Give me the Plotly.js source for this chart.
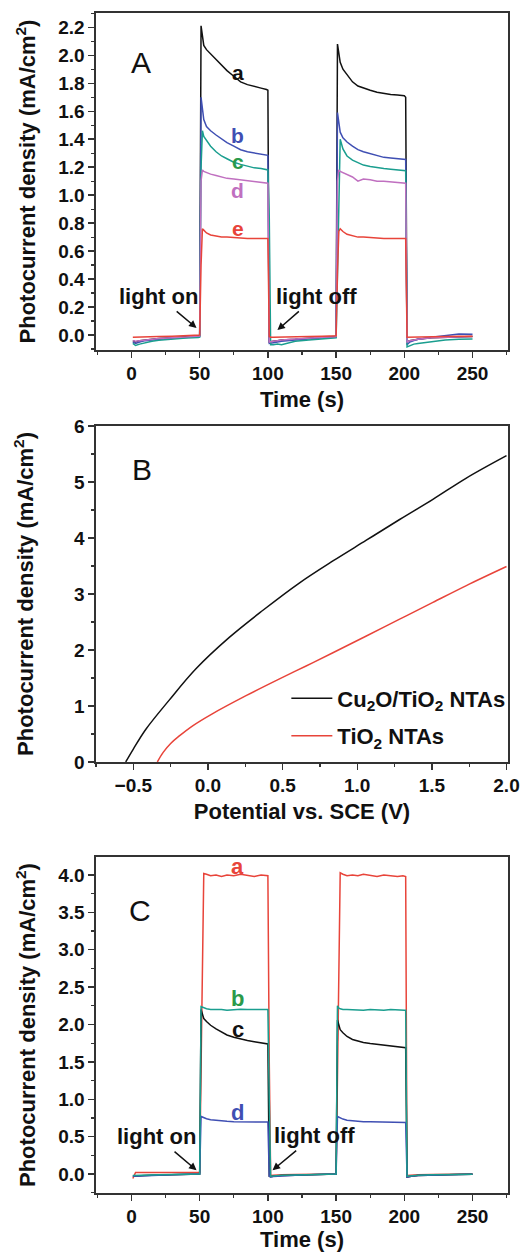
<!DOCTYPE html>
<html><head><meta charset="utf-8">
<script src="https://cdn.plot.ly/plotly-3.0.1.min.js"></script>
<style>html,body{margin:0;padding:0;background:#fff}</style>
</head><body><div id="chart" style="width:524px;height:1252px"></div>
<script>
// ---------- data ----------
var timeS = [1,3,6,10,15,20,30,40,49,
  50,51,52,53,55,58,62,66,70,
  75,80,85,90,95,99,100,101,102,
  104,107,110,120,130,140,149,
  150,151,152,153,155,158,162,166,170,
  175,180,185,190,195,199,200,201,202,
  204,207,210,220,230,240,250];

// Panel A (curves a-e)
var curveA_a = [-0.04,-0.05,-0.04,-0.035,-0.03,-0.025,-0.02,-0.015,-0.01,
  -0.005,2.21,2.12,2.07,2.04,2.01,1.97,1.93,1.89,
  1.85,1.81,1.79,1.775,1.765,1.755,1.75,-0.05,-0.05,
  -0.045,-0.04,-0.035,-0.03,-0.02,-0.015,-0.01,
  -0.01,2.08,2.0,1.95,1.90,1.86,1.81,1.78,1.765,
  1.75,1.735,1.725,1.72,1.715,1.71,1.71,1.70,-0.05,
  -0.04,-0.035,-0.03,-0.02,-0.015,-0.01,-0.01];
var curveA_b = [-0.05,-0.06,-0.05,-0.04,-0.035,-0.03,-0.022,-0.017,-0.012,
  -0.008,1.70,1.60,1.54,1.49,1.46,1.43,1.40,1.375,
  1.35,1.325,1.31,1.30,1.29,1.285,1.285,-0.06,-0.06,
  -0.055,-0.05,-0.045,-0.035,-0.025,-0.02,-0.015,
  -0.012,1.59,1.50,1.45,1.41,1.38,1.35,1.325,1.31,
  1.295,1.28,1.27,1.265,1.26,1.26,1.26,1.255,-0.07,
  -0.05,-0.04,-0.03,-0.015,-0.005,0.008,0.005];
var curveA_c = [-0.06,-0.075,-0.065,-0.055,-0.045,-0.038,-0.028,-0.022,-0.018,
  -0.015,1.20,1.46,1.42,1.39,1.35,1.31,1.28,1.26,
  1.235,1.22,1.205,1.195,1.19,1.185,1.18,0.84,-0.07,
  -0.07,-0.065,-0.07,-0.045,-0.035,-0.028,-0.022,
  -0.02,0.43,0.95,1.40,1.33,1.28,1.25,1.23,1.215,
  1.205,1.195,1.19,1.185,1.18,1.18,1.18,1.175,-0.085,
  -0.075,-0.065,-0.06,-0.045,-0.035,-0.03,-0.028];
var curveA_d = [-0.04,-0.045,-0.04,-0.035,-0.03,-0.025,-0.02,-0.015,-0.012,
  -0.008,1.10,1.18,1.17,1.16,1.15,1.14,1.13,1.12,
  1.115,1.11,1.10,1.10,1.095,1.09,1.085,-0.05,-0.05,
  -0.045,-0.04,-0.035,-0.028,-0.02,-0.015,-0.012,
  -0.01,1.10,1.18,1.17,1.16,1.15,1.13,1.10,1.115,
  1.11,1.10,1.10,1.095,1.09,1.09,1.09,1.085,-0.05,
  -0.04,-0.035,-0.03,-0.02,-0.015,-0.01,-0.01];
var curveA_e = [-0.015,-0.015,-0.014,-0.013,-0.012,-0.01,-0.008,-0.006,-0.005,
  0.0,0.50,0.76,0.75,0.73,0.715,0.705,0.70,0.70,
  0.695,0.69,0.69,0.69,0.69,0.69,0.69,-0.01,-0.015,
  -0.015,-0.015,-0.015,-0.012,-0.01,-0.008,-0.006,
  -0.005,0.45,0.74,0.76,0.74,0.72,0.71,0.70,0.70,
  0.695,0.69,0.69,0.69,0.69,0.69,0.69,0.69,-0.015,
  -0.015,-0.015,-0.014,-0.012,-0.01,-0.008,-0.008];

// Panel B (J-V curves)
var potCu = [-0.551,-0.5,-0.417,-0.261,-0.082,0.141,0.364,0.614,0.837,1.061,1.284,1.507,1.731,2.0];
var curCu = [0.0,0.23,0.58,1.10,1.66,2.22,2.70,3.20,3.59,3.96,4.33,4.69,5.07,5.47];
var potTi = [-0.339,-0.3,-0.25,-0.194,-0.1,0.029,0.252,0.476,0.654,0.837,1.061,1.284,1.507,1.731,2.0];
var curTi = [0.0,0.17,0.33,0.46,0.65,0.86,1.18,1.48,1.71,1.95,2.25,2.55,2.85,3.15,3.49];
var legendNames = ['Cu<sub>2</sub>O/TiO<sub>2</sub> NTAs','TiO<sub>2</sub> NTAs'];

// Panel C (curves a-d)
var curveC_a = [-0.06,0.02,0.02,0.02,0.02,0.02,0.02,0.02,0.02,
  0.02,1.40,2.75,4.02,4.01,3.99,4.00,3.98,4.00,
  3.99,4.01,3.99,3.98,4.00,3.99,3.99,1.50,-0.02,
  -0.015,-0.01,-0.01,-0.005,0.0,0.0,0.0,
  0.0,1.30,2.70,4.03,4.01,3.99,4.00,3.99,4.01,
  3.99,3.98,4.00,3.99,3.98,3.99,3.99,3.98,-0.02,
  -0.015,-0.01,-0.01,-0.005,0.0,0.0,0.0];
var curveC_b = [-0.02,-0.02,-0.018,-0.015,-0.013,-0.01,-0.008,-0.006,-0.005,
  0.0,2.24,2.23,2.22,2.21,2.20,2.205,2.20,2.19,
  2.20,2.205,2.20,2.195,2.20,2.20,2.20,1.0,-0.03,
  -0.025,-0.02,-0.018,-0.012,-0.008,-0.005,-0.004,
  0.0,2.25,2.22,2.21,2.20,2.20,2.195,2.20,2.19,
  2.20,2.195,2.19,2.20,2.19,2.19,2.19,2.19,-0.03,
  -0.025,-0.02,-0.015,-0.01,-0.005,-0.003,-0.002];
var curveC_c = [-0.03,-0.03,-0.025,-0.02,-0.018,-0.015,-0.01,-0.008,-0.005,
  0.0,2.20,2.12,2.08,2.04,1.99,1.94,1.90,1.86,
  1.83,1.805,1.785,1.77,1.755,1.745,1.74,-0.03,-0.035,
  -0.03,-0.025,-0.02,-0.015,-0.01,-0.006,-0.004,
  0.0,2.06,1.98,1.93,1.89,1.84,1.80,1.775,1.76,
  1.745,1.735,1.725,1.715,1.71,1.70,1.70,1.69,-0.04,
  -0.03,-0.025,-0.02,-0.012,-0.008,-0.005,-0.004];
var curveC_d = [-0.03,-0.028,-0.025,-0.02,-0.018,-0.015,-0.01,-0.008,-0.005,
  0.0,0.77,0.76,0.75,0.74,0.725,0.715,0.71,0.705,
  0.70,0.70,0.70,0.695,0.695,0.695,0.695,-0.03,-0.04,
  -0.035,-0.03,-0.025,-0.015,-0.01,-0.006,-0.004,
  0.0,0.77,0.76,0.75,0.735,0.72,0.71,0.705,0.70,
  0.70,0.70,0.695,0.695,0.69,0.69,0.69,0.69,-0.04,
  -0.03,-0.025,-0.02,-0.012,-0.008,-0.005,-0.004];

var labelsA = ['a','b','c','d','e'];
var labelsC = ['a','b','c','d'];
var labelXTime = 78;
var labelYA = [1.88,1.425,1.24,1.03,0.76];
var labelYC = [4.11,2.35,1.93,0.82];

// ---------- styling ----------
var FONT = 'Liberation Sans, Arial, sans-serif';
var BLACK = '#111111', BLUE = '#3f4fb3', TEAL = '#1a9e8f', GREEN = '#2a9a4a', MAG = '#c070c0', RED = '#e8443a';
var colA = [BLACK, BLUE, TEAL, MAG, RED];
var labColA = [BLACK, BLUE, GREEN, MAG, RED];
var colC = [RED, TEAL, BLACK, BLUE];
var labColC = [RED, GREEN, BLACK, BLUE];

function line(x, y, color, xa, ya, name, show) {
  return {x: x, y: y, type: 'scatter', mode: 'lines', xaxis: xa, yaxis: ya,
    line: {color: color, width: 1.5}, name: name || '', showlegend: !!show, hoverinfo: 'skip'};
}

var traces = [];
var seriesA = [curveA_a, curveA_b, curveA_c, curveA_d, curveA_e];
seriesA.forEach(function(s, i){ traces.push(line(timeS, s, colA[i], 'x', 'y')); });
var bCu = line(potCu, curCu, BLACK, 'x2', 'y2', legendNames[0], true);
bCu.line.shape = 'spline'; bCu.line.smoothing = 1; bCu.legendgroup = 'g1';
var bTi = line(potTi, curTi, RED, 'x2', 'y2', legendNames[1], true);
bTi.line.shape = 'spline'; bTi.line.smoothing = 1; bTi.legendgroup = 'g2';
traces.push(bCu, bTi);
var orderC = [0, 2, 3, 1];
var seriesC = [curveC_a, curveC_b, curveC_c, curveC_d];
orderC.forEach(function(i){ traces.push(line(timeS, seriesC[i], colC[i], 'x3', 'y3')); });

function minorT(d) { return {ticks: 'outside', ticklen: 3, tickwidth: 1.2, tickcolor: '#333', dtick: d}; }
function axis(o) {
  var base = {showline: true, mirror: true, linecolor: '#333', linewidth: 1.6,
    ticks: 'outside', ticklen: 6, tickwidth: 1.4, tickcolor: '#333',
    tickfont: {family: FONT, size: 19, color: '#111', weight: 'bold'},
    showgrid: false, zeroline: false, fixedrange: true};
  for (var k in o) base[k] = o[k];
  return base;
}
var titleFont = {family: FONT, size: 22, color: '#111', weight: 'bold'};
var yTitle = 'Photocurrent density (mA/cm<sup>2</sup>)';

var layout = {
  width: 524, height: 1252,
  margin: {l: 96, r: 16, t: 13, b: 59},
  paper_bgcolor: '#fff', plot_bgcolor: '#fff',
  font: {family: FONT, color: '#111'},
  showlegend: true,
  legend: {x: 0.462, y: 0.437, xanchor: 'left', yanchor: 'top', bgcolor: 'rgba(0,0,0,0)',
    itemwidth: 41, tracegroupgap: 6,
    font: {family: FONT, size: 22, color: '#111', weight: 'bold'}},
  xaxis: axis({domain: [0,1], anchor: 'y', range: [-26, 276], tick0: 0, dtick: 50, minor: minorT(25),
    title: {text: 'Time (s)', font: titleFont, standoff: 8}}),
  yaxis: axis({domain: [0.7144, 1], anchor: 'x', range: [-0.107, 2.302], tick0: 0, dtick: 0.2, tickformat: '.1f',
    minor: minorT(0.1), title: {text: yTitle, font: titleFont, standoff: 16}}),
  xaxis2: axis({domain: [0,1], anchor: 'y2', range: [-0.75, 2.01], tick0: 0, dtick: 0.5, tickformat: '.1f',
    minor: minorT(0.25), title: {text: 'Potential vs. SCE (V)', font: titleFont, standoff: 8}}),
  yaxis2: axis({domain: [0.3653, 0.65], anchor: 'x2', range: [0, 6], tick0: 0, dtick: 1,
    minor: minorT(0.5), title: {text: yTitle, font: titleFont, standoff: 34}}),
  xaxis3: axis({domain: [0,1], anchor: 'y3', range: [-26, 276], tick0: 0, dtick: 50, minor: minorT(25),
    title: {text: 'Time (s)', font: titleFont, standoff: 8}}),
  yaxis3: axis({domain: [0, 0.2847], anchor: 'x3', range: [-0.254, 4.24], tick0: 0, dtick: 0.5, tickformat: '.1f',
    minor: minorT(0.25), title: {text: yTitle, font: titleFont, standoff: 16}}),
  annotations: []
};

var ann = layout.annotations;
function txt(x, y, xr, yr, t, size, color, bold) {
  ann.push({x: x, y: y, xref: xr, yref: yr, text: t, showarrow: false,
    font: {family: FONT, size: size, color: color, weight: bold ? 'bold' : 'normal'},
    xanchor: 'center', yanchor: 'middle'});
}
function arrowTxt(x, y, xr, yr, t, ax, ay) {
  ann.push({x: x, y: y, xref: xr, yref: yr, text: t, showarrow: true, ax: ax, ay: ay,
    font: {family: FONT, size: 22, color: '#111', weight: 'bold'},
    arrowhead: 2, arrowsize: 1, arrowwidth: 1.5, arrowcolor: '#111', standoff: 0, startstandoff: 2});
}
// panel letters
txt(7.3, 1.95, 'x', 'y', 'A', 30, '#111', false);
txt(-0.444, 5.22, 'x2', 'y2', 'B', 30, '#111', false);
txt(5.9, 3.53, 'x3', 'y3', 'C', 30, '#111', false);
// curve labels
labelsA.forEach(function(l, i){ txt(labelXTime, labelYA[i], 'x', 'y', l, 21, labColA[i], true); });
labelsC.forEach(function(l, i){ txt(labelXTime, labelYC[i], 'x3', 'y3', l, 22, labColC[i], true); });
// light on / off with arrows
arrowTxt(47.7, 0.05, 'x', 'y', 'light on', -38, -32);
arrowTxt(107, 0.036, 'x', 'y', 'light off', 39, -34);
arrowTxt(47.7, 0.05, 'x3', 'y3', 'light on', -40, -34);
arrowTxt(103.4, 0.05, 'x3', 'y3', 'light off', 42, -35);

Plotly.newPlot('chart', traces, layout, {displayModeBar: false, staticPlot: true});
</script></body></html>
